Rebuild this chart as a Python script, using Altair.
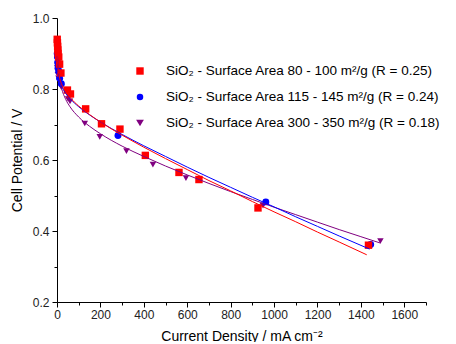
import altair as alt
import pandas as pd

# ---- data ----
series_names = [
    "SiO₂ - Surface Area 80 - 100 m²/g (R = 0.25)",
    "SiO₂ - Surface Area 115 - 145 m²/g (R = 0.24)",
    "SiO₂ - Surface Area 300 - 350 m²/g (R = 0.18)",
]
series_colors = ["#FF0000", "#0000FF", "#800080"]
series_shapes = ["square", "circle", "triangle-down"]
series_sizes = [55, 42, 60]

red_x = [1, 2, 3, 4, 5, 8, 12, 18, 48, 62, 132, 205, 290, 407, 562, 654, 926, 1435]
red_y = [0.94, 0.93, 0.92, 0.91, 0.90, 0.89, 0.87, 0.845, 0.797, 0.786, 0.744, 0.702,
         0.687, 0.613, 0.565, 0.545, 0.465, 0.36]

blue_x = [1, 2, 3, 5, 8, 12, 20, 281, 962, 1445]
blue_y = [0.90, 0.89, 0.875, 0.86, 0.85, 0.83, 0.815, 0.669, 0.482, 0.362]

purple_x = [1, 2, 4, 7, 12, 20, 51, 60, 128, 197, 320, 442, 594, 949, 1490]
purple_y = [0.86, 0.85, 0.84, 0.83, 0.82, 0.805, 0.772, 0.765, 0.703, 0.665, 0.625,
            0.587, 0.549, 0.471, 0.372]

# fitted curves
red_fit_x = [1, 2, 5, 10, 20, 40, 60, 100, 150, 200, 300, 400, 500, 600, 700, 800, 900,
             1000, 1100, 1200, 1300, 1427]
red_fit_y = [0.902, 0.883, 0.857, 0.837, 0.816, 0.792, 0.776, 0.752, 0.728, 0.707, 0.670,
             0.636, 0.604, 0.573, 0.542, 0.513, 0.483, 0.454, 0.426, 0.397, 0.369, 0.333]

blue_fit_x = [1, 2, 5, 10, 20, 40, 60, 100, 150, 200, 300, 400, 500, 600, 700, 800, 900,
              1000, 1100, 1200, 1300, 1440]
blue_fit_y = [0.892, 0.874, 0.850, 0.831, 0.811, 0.788, 0.773, 0.750, 0.727, 0.707, 0.672,
              0.640, 0.610, 0.580, 0.551, 0.523, 0.495, 0.468, 0.440, 0.413, 0.386, 0.349]

purple_fit_x = [3, 5, 10, 20, 40, 60, 100, 150, 200, 300, 400, 500, 600, 700, 800, 900,
                1000, 1100, 1200, 1300, 1400, 1490]
purple_fit_y = [0.890, 0.868, 0.837, 0.805, 0.771, 0.750, 0.721, 0.695, 0.674, 0.639,
                0.610, 0.583, 0.558, 0.534, 0.511, 0.489, 0.467, 0.446, 0.425, 0.404,
                0.384, 0.366]

x_ticks = [0, 100, 200, 300, 400, 500, 600, 700, 800, 900, 1000, 1100, 1200, 1300,
           1400, 1500, 1600, 1700]
y_ticks = [0.2, 0.3, 0.4, 0.5, 0.6, 0.7, 0.8, 0.9, 1.0]

# ---- tables ----
pts = pd.concat([
    pd.DataFrame({"x": purple_x, "y": purple_y, "series": series_names[2]}),
    pd.DataFrame({"x": blue_x, "y": blue_y, "series": series_names[1]}),
    pd.DataFrame({"x": red_x, "y": red_y, "series": series_names[0]}),
], ignore_index=True)

fits = pd.concat([
    pd.DataFrame({"x": purple_fit_x, "y": purple_fit_y, "series": series_names[2]}),
    pd.DataFrame({"x": blue_fit_x, "y": blue_fit_y, "series": series_names[1]}),
    pd.DataFrame({"x": red_fit_x, "y": red_fit_y, "series": series_names[0]}),
], ignore_index=True)

FONT = "Liberation Sans"

x_axis = alt.Axis(
    values=x_ticks,
    labelExpr="datum.value % 200 === 0 ? datum.label : ''",
    tickSize={"condition": {"test": "datum.value % 200 === 0", "value": 5}, "value": 3},
    grid=False, domainColor="black", tickColor="black", labelColor="#222222",
    domainWidth=1, tickWidth=1,
    labelFont=FONT, labelFontSize=12, labelPadding=2, labelFlush=False, labelOverlap=False,
    format="d",
    title="Current Density / mA cm⁻²", titleFont=FONT, titleFontSize=14,
    titleFontWeight="normal", titleColor="black",
    titleY=27, titleX=184.5, titleBaseline="top", titleAlign="center",
)
y_axis = alt.Axis(
    values=y_ticks,
    labelExpr="round(datum.value*10) % 2 === 0 ? format(datum.value, '.1f') : ''",
    tickSize={"condition": {"test": "round(datum.value*10) % 2 === 0", "value": 5}, "value": 3},
    grid=False, domainColor="black", tickColor="black", labelColor="#222222",
    domainWidth=1, tickWidth=1,
    labelFont=FONT, labelFontSize=12, labelPadding=3, labelFlush=False, labelOverlap=False,
    title="Cell Potential / V", titleFont=FONT, titleFontSize=14,
    titleFontWeight="normal", titleColor="black",
    titleAngle=270, titleX=-33, titleY=142, titleBaseline="bottom", titleAlign="center",
)

x_enc = alt.X("x:Q", scale=alt.Scale(domain=[0, 1700], nice=False, zero=False), axis=x_axis)
y_enc = alt.Y("y:Q", scale=alt.Scale(domain=[0.2, 1.0], nice=False, zero=False), axis=y_axis)
color_enc = alt.Color("series:N", scale=alt.Scale(domain=series_names, range=series_colors), legend=None)

points = alt.Chart(pts).mark_point(filled=True, opacity=1).encode(
    x=x_enc, y=y_enc, color=color_enc,
    shape=alt.Shape("series:N", scale=alt.Scale(domain=series_names, range=series_shapes), legend=None),
    size=alt.Size("series:N", scale=alt.Scale(domain=series_names, range=series_sizes), legend=None),
)

lines = alt.Chart(fits).mark_line(strokeWidth=1, interpolate="monotone").encode(
    x=x_enc, y=y_enc, color=color_enc,
)

# custom legend (pixel positions are layout only)
legend_rows_y = [53, 79, 105]
legend_layers = []
for i in range(3):
    d = pd.DataFrame({"label": [series_names[i]]})
    legend_layers.append(
        alt.Chart(d).mark_point(filled=True, opacity=1, shape=series_shapes[i],
                                color=series_colors[i], size=series_sizes[i]).encode(
            x=alt.value(83), y=alt.value(legend_rows_y[i]))
    )
    legend_layers.append(
        alt.Chart(d).mark_text(align="left", baseline="middle", font=FONT, fontSize=13.5,
                               color="black").encode(
            x=alt.value(109), y=alt.value(legend_rows_y[i]), text="label:N")
    )

chart = alt.layer(points, lines, *legend_layers).properties(
    width=369, height=284,
    padding={"left": 49, "top": 10, "right": 22, "bottom": 40},
    autosize=alt.AutoSizeParams(type="none"),
    background="white",
).configure_view(stroke=None)

chart.save("out.html", embed_options={"renderer": "svg", "actions": False})
